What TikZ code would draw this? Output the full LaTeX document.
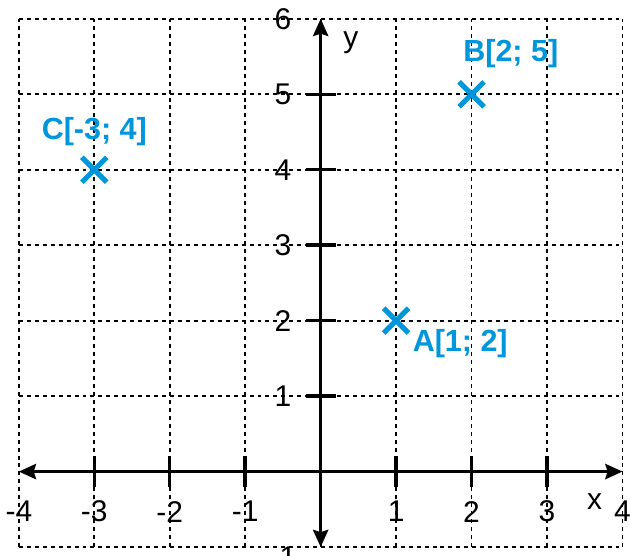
\documentclass[tikz,border=0pt]{standalone}
\usepackage{fontspec}
\setmainfont{Liberation Sans}
\usetikzlibrary{arrows.meta}
\definecolor{ptblue}{RGB}{0,150,220}
\tikzset{
  gridline/.style={black, line width=0.7pt, dash pattern=on 1.5pt off 1.5pt},
  axistip/.tip={Stealth[length=6.5pt,width=5.8pt,inset=0.9pt]},
  axisline/.style={black, line width=0.95pt, axistip-axistip},
  tickmark/.style={black, line width=1.3pt},
  ticklabel/.style={font=\fontsize{11.3}{13}\selectfont, inner sep=0pt},
  ptlabel/.style={font=\fontsize{11.5}{13}\selectfont\bfseries, text=ptblue, inner sep=0pt},
  ptmark/.style={ptblue, line width=1.9pt}
}
\begin{document}
\begin{tikzpicture}[x=1cm,y=1cm]
\useasboundingbox (-4.25,-1.106) rectangle (4.10,6.25);
% grid
\draw[gridline] (-4,-1) grid (4,6);
% axes
\coordinate (xl) at (-4,0);
\coordinate (xr) at (4,0);
\coordinate (yb) at (0,-1);
\coordinate (yt) at (0,6);
\draw[axisline] (xl) -- (xr);
\draw[axisline] (yb) -- (yt);
% ticks
\foreach \i in {-3,-2,-1,1,2,3} {
  \draw[tickmark] (\i,-0.2) -- (\i,0.2);
}
\foreach \j in {0,1,2,3,4,5} {
  \draw[tickmark] (-0.2,\j) -- (0.2,\j);
}
% tick labels
\foreach \i in {-4,-3,-2,-1,1,2,3,4} {
  \node[ticklabel] (xlab\i) at (\i,-0.53) {\i};
}
\foreach \j in {1,2,3,4,5,6} {
  \node[ticklabel] (ylab\j) at (-0.5,\j) {\j};
}
\node[ticklabel] (ylabm1) at (-0.5,-1.13) {-1};
\node[ticklabel] (xname) at (3.63,-0.40) {x};
\node[ticklabel] (yname) at (0.40,5.69) {y};
% points
\coordinate (A) at (1,2);
\coordinate (B) at (2,5);
\coordinate (C) at (-3,4);
\foreach \p in {A,B,C} {
  \draw[ptmark] ([shift={(-0.165,-0.165)}]\p) -- ([shift={(0.165,0.165)}]\p);
  \draw[ptmark] ([shift={(-0.165,0.165)}]\p) -- ([shift={(0.165,-0.165)}]\p);
}
\node[ptlabel] (Alab) at (1.85,1.70) {A[1; 2]};
\node[ptlabel] (Blab) at (2.52,5.54) {B[2; 5]};
\node[ptlabel] (Clab) at (-3.0,4.51) {C[-3; 4]};
\end{tikzpicture}
\end{document}
